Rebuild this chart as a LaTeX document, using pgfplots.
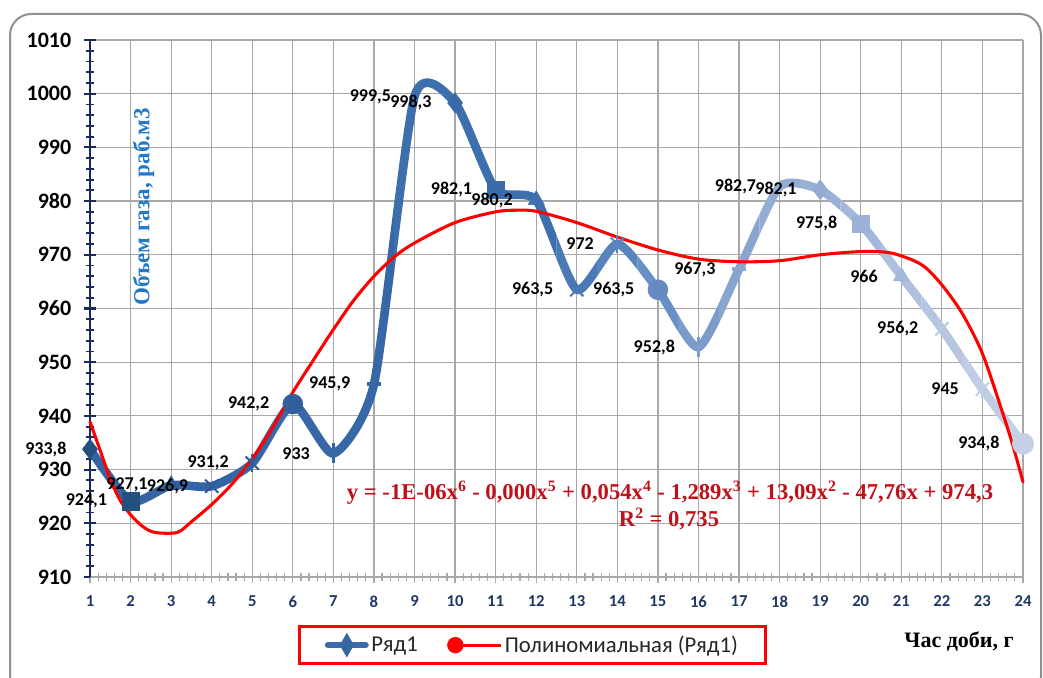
\documentclass[border=0pt]{standalone}
\usepackage{pgfplots}
\pgfplotsset{compat=1.18}
\usepackage{fontspec}
\setmainfont{Carlito}
\newfontfamily\serifb{Liberation Serif}

\definecolor{navyax}{HTML}{1B2A5C}
\definecolor{xtickc}{HTML}{1F3864}
\definecolor{bdark}{HTML}{3B6BAA}
\definecolor{gridc}{HTML}{A8A8A8}
\definecolor{eqred}{HTML}{C0101A}
\definecolor{ytitle}{HTML}{2479C6}
\definecolor{framec}{HTML}{909090}
% marker colours
\definecolor{mA}{HTML}{24507F}
\definecolor{mB}{HTML}{2B5A94}
\definecolor{mC}{HTML}{30609B}
\definecolor{mD}{HTML}{3767A3}
\definecolor{mE}{HTML}{3A6AA8}
\definecolor{mF}{HTML}{4070AE}
\definecolor{mG}{HTML}{4A78B4}
\definecolor{mH}{HTML}{5C85BE}
\definecolor{mI}{HTML}{6689C2}
\definecolor{mJ}{HTML}{7E9DCC}
\definecolor{mK}{HTML}{8CA7D2}
\definecolor{mL}{HTML}{93AAD3}
\definecolor{mM}{HTML}{9CB1D7}
\definecolor{mN}{HTML}{A4B7DA}
\definecolor{mO}{HTML}{B7C7E2}
\definecolor{mP}{HTML}{BFCDE5}
\definecolor{mQ}{HTML}{C6D0E5}
% line band colours
\definecolor{bA}{HTML}{3464A4}
\definecolor{bB}{HTML}{3767A6}
\definecolor{bC}{HTML}{3E6FAD}
\definecolor{bD}{HTML}{4A79B5}
\definecolor{bE}{HTML}{5884BD}
\definecolor{bF}{HTML}{6890C4}
\definecolor{bG}{HTML}{7B9CCB}
\definecolor{bH}{HTML}{88A5D0}
\definecolor{bI}{HTML}{92ACD4}
\definecolor{bJ}{HTML}{9AB1D7}
\definecolor{bK}{HTML}{A3B8DA}
\definecolor{bL}{HTML}{ADC0DE}
\definecolor{bM}{HTML}{B6C6E1}
\definecolor{bN}{HTML}{BECCE4}
\definecolor{bO}{HTML}{C5D1E7}

\pgfplotstableread{
x y lab
1 933.8 933,8
2 924.1 924,1
3 927.1 927,1
4 926.9 926,9
5 931.2 931,2
6 942.2 942,2
7 933 933
8 945.9 945,9
9 999.5 999,5
10 998.3 998,3
11 982.1 982,1
12 980.2 980,2
13 963.5 963,5
14 972 972
15 963.5 963,5
16 952.8 952,8
17 967.3 967,3
18 982.7 982,7
19 982.1 982,1
20 975.8 975,8
21 966 966
22 956.2 956,2
23 945 945
24 934.8 934,8
}\series

\pgfplotstableread{
x y
1 938.9
1.25 933.6
1.5 928.2
1.75 924.2
2 921.6
2.3 919.4
2.6 918.3
3.15 918.3
3.5 920.3
4 923.5
4.5 927.3
5 932.0
5.5 937.8
6 944.4
6.5 950.3
7 956.1
7.5 961.5
8 966.0
8.5 969.6
9 972.2
10 976.0
11 978.0
11.5 978.3
12 978.1
13 976.0
14 973.3
15 970.9
16 969.2
17 968.7
18 968.9
19 970.0
20 970.6
20.7 970.4
21.25 969.1
21.6 967.6
22 964.4
22.5 959.1
23 951.6
23.5 940.5
23.75 934.5
24 927.7
}\trend

\newcommand{\pxy}[2]{({#1},{678-#2})}

\pgfplotsset{
  base/.style={at={(67.5pt,75.75pt)}, anchor=south west,
    scale only axis, width=699.75pt, height=402.75pt,
    xmin=1, xmax=24, ymin=910, ymax=1010, clip=false},
  ovl/.style={base, hide axis},
  bline/.style={line width=6.5pt, smooth, tension=0.38, line cap=round, line join=round},
}
\newcommand{\band}[3]{%
  \begin{scope}
  \clip ({90+(#1-1)*40.5652},-10) rectangle ({90+(#2-1)*40.5652},700);
  \begin{axis}[ovl]
  \addplot[color=#3, bline] table[x=x,y=y] {\series};
  \end{axis}
  \end{scope}}

\begin{document}
\begin{tikzpicture}[x=0.75pt,y=0.75pt]
\path[use as bounding box] (0,0) rectangle (1043,678);
\begin{scope}
\clip (0,0) rectangle (1043,678);
\draw[framec, line width=1.5pt, rounded corners=16pt] (10,664) rectangle (1041,-20);
\end{scope}

% base axis: grid, ticks
\begin{axis}[
  base,
  xtick={1,...,24}, ytick={910,920,...,1010},
  minor x tick num=4, minor y tick num=4,
  axis x line=bottom, axis y line=left,
  x axis line style={-, color=gridc, line width=1.1pt},
  y axis line style={-, color=navyax, line width=2pt},
  tick align=center,
  major tick length=9pt, minor tick length=6pt,
  every major y tick/.style={navyax, line width=1.6pt},
  every minor y tick/.style={navyax, line width=1.4pt},
  every major x tick/.style={gridc, line width=0.9pt},
  every minor x tick/.style={gridc, line width=0.9pt},
  xmajorgrids, ymajorgrids,
  major grid style={gridc, line width=0.9pt},
  /pgf/number format/assume math mode=true,
  /pgf/number format/1000 sep={},
  yticklabel style={font=\bfseries\fontsize{16.5}{18}\selectfont, text=black, anchor=east, xshift=-6pt},
  xticklabel style={font=\bfseries\fontsize{12.5}{14}\selectfont, text=xtickc, anchor=north, yshift=-6pt},
]
\addplot[draw=none] coordinates {(1,910)};
\end{axis}

% blue curve, coloured by bands
\band{0}{4.5}{bA}
\band{4.5}{8.5}{bB}
\band{8.5}{12.5}{bC}
\band{12.5}{13.5}{bD}
\band{13.5}{14.5}{bE}
\band{14.5}{15.5}{bF}
\band{15.5}{16.5}{bG}
\band{16.5}{17.5}{bH}
\band{17.5}{18.5}{bI}
\band{18.5}{19.5}{bJ}
\band{19.5}{20.5}{bK}
\band{20.5}{21.5}{bL}
\band{21.5}{22.5}{bM}
\band{22.5}{23.5}{bN}
\band{23.5}{25}{bO}

% markers, trend, labels, legend
\begin{axis}[
  ovl,
  legend style={at={(0.2229,-0.0894)}, anchor=north west, draw=red, line width=2.25pt,
     font=\fontsize{17}{19}\selectfont, text=black!85, inner xsep=19pt, inner ysep=5pt},
  legend columns=2,
  legend cell align=left,
  /tikz/every even column/.append style={column sep=20pt},
]
\addplot[forget plot, only marks, mark=diamond*, mark size=7.5pt, color=mA] coordinates {(1,933.8)};
\addplot[forget plot, only marks, mark=square*, mark size=6.5pt, color=mA] coordinates {(2,924.1)};
\addplot[forget plot, only marks, mark=triangle*, mark size=7pt, color=mB] coordinates {(3,927.1)};
\addplot[forget plot, only marks, mark=x, mark size=7pt, line width=1.5pt, color=mB] coordinates {(4,926.9)};
\addplot[forget plot, only marks, mark=x, mark size=7pt, line width=1.5pt, color=mC] coordinates {(5,931.2)};
\addplot[forget plot, only marks, mark=|, mark size=7pt, line width=1.5pt, color=mC] coordinates {(5,931.2)};
\addplot[forget plot, only marks, mark=*, mark size=7.5pt, color=mC] coordinates {(6,942.2)};
\addplot[forget plot, only marks, mark=|, mark size=7.5pt, line width=1.8pt, color=mD] coordinates {(7,933)};
\addplot[forget plot, only marks, mark=-, mark size=5pt, line width=3pt, color=mD] coordinates {(8,945.9)};
\addplot[forget plot, only marks, mark=diamond*, mark size=7.5pt, color=mE] coordinates {(10,998.3)};
\addplot[forget plot, only marks, mark=square*, mark size=6.5pt, color=mE] coordinates {(11,982.1)};
\addplot[forget plot, only marks, mark=triangle*, mark size=7pt, color=mF] coordinates {(12,980.2)};
\addplot[forget plot, only marks, mark=x, mark size=7pt, line width=1.5pt, color=mG] coordinates {(13,963.5)};
\addplot[forget plot, only marks, mark=x, mark size=7pt, line width=1.5pt, color=mH] coordinates {(14,972)};
\addplot[forget plot, only marks, mark=|, mark size=7pt, line width=1.5pt, color=mH] coordinates {(14,972)};
\addplot[forget plot, only marks, mark=*, mark size=7.5pt, color=mI] coordinates {(15,963.5)};
\addplot[forget plot, only marks, mark=|, mark size=7.5pt, line width=1.8pt, color=mJ] coordinates {(16,952.8)};
\addplot[forget plot, only marks, mark=-, mark size=5pt, line width=3pt, color=mK] coordinates {(17,967.3)};
\addplot[forget plot, only marks, mark=diamond*, mark size=7.5pt, color=mL] coordinates {(19,982.1)};
\addplot[forget plot, only marks, mark=square*, mark size=6.5pt, color=mM] coordinates {(20,975.8)};
\addplot[forget plot, only marks, mark=triangle*, mark size=7pt, color=mN] coordinates {(21,966)};
\addplot[forget plot, only marks, mark=x, mark size=7pt, line width=1.5pt, color=mO] coordinates {(22,956.2)};
\addplot[forget plot, only marks, mark=x, mark size=7pt, line width=1.5pt, color=mP] coordinates {(23,945)};
\addplot[forget plot, only marks, mark=|, mark size=7pt, line width=1.5pt, color=mP] coordinates {(23,945)};
\addplot[forget plot, only marks, mark=*, mark size=8pt, color=mQ] coordinates {(24,934.8)};

% trend line
\addplot[forget plot, red, line width=2.3pt, smooth, line cap=round] table[x=x,y=y] {\trend};

% data labels
\addplot[forget plot, draw=none, mark=none, nodes near coords, point meta=explicit symbolic,
  every node near coord/.append style={anchor=east, xshift=-17.5pt, inner sep=0pt, text=black,
    font=\bfseries\fontsize{13.5}{15}\selectfont}]
  table[x=x,y=y,meta=lab] {\series};

% legend
\addlegendimage{legend image code/.code={
  \draw[bdark, line width=5pt, line cap=round] (2pt,0pt) -- (30pt,0pt);
  \fill[mD] (16pt,-7pt) -- (20pt,0pt) -- (16pt,7pt) -- (12pt,0pt) -- cycle;}}
\addlegendentry{Ряд1}
\addlegendimage{legend image code/.code={
  \draw[red, line width=2.25pt] (0pt,0pt) -- (34pt,0pt);
  \fill[red] (0pt,0pt) circle (5pt);}}
\addlegendentry{Полиномиальная (Ряд1)}
\end{axis}

\node[rotate=90, text=ytitle, font=\serifb\bfseries\fontsize{17.3}{19}\selectfont] at \pxy{143.5}{207} {Объем газа, раб.м3};
\node[font=\serifb\bfseries\fontsize{16.5}{18}\selectfont] at \pxy{959}{642} {Час доби, г};
\node[text=eqred, font=\serifb\bfseries\fontsize{17}{19}\selectfont] at \pxy{670}{493} {y = -1E-06x\textsuperscript{6} - 0,000x\textsuperscript{5} + 0,054x\textsuperscript{4} - 1,289x\textsuperscript{3} + 13,09x\textsuperscript{2} - 47,76x + 974,3};
\node[text=eqred, font=\serifb\bfseries\fontsize{17}{19}\selectfont] at \pxy{669}{519} {R\textsuperscript{2} = 0,735};
\end{tikzpicture}
\end{document}
